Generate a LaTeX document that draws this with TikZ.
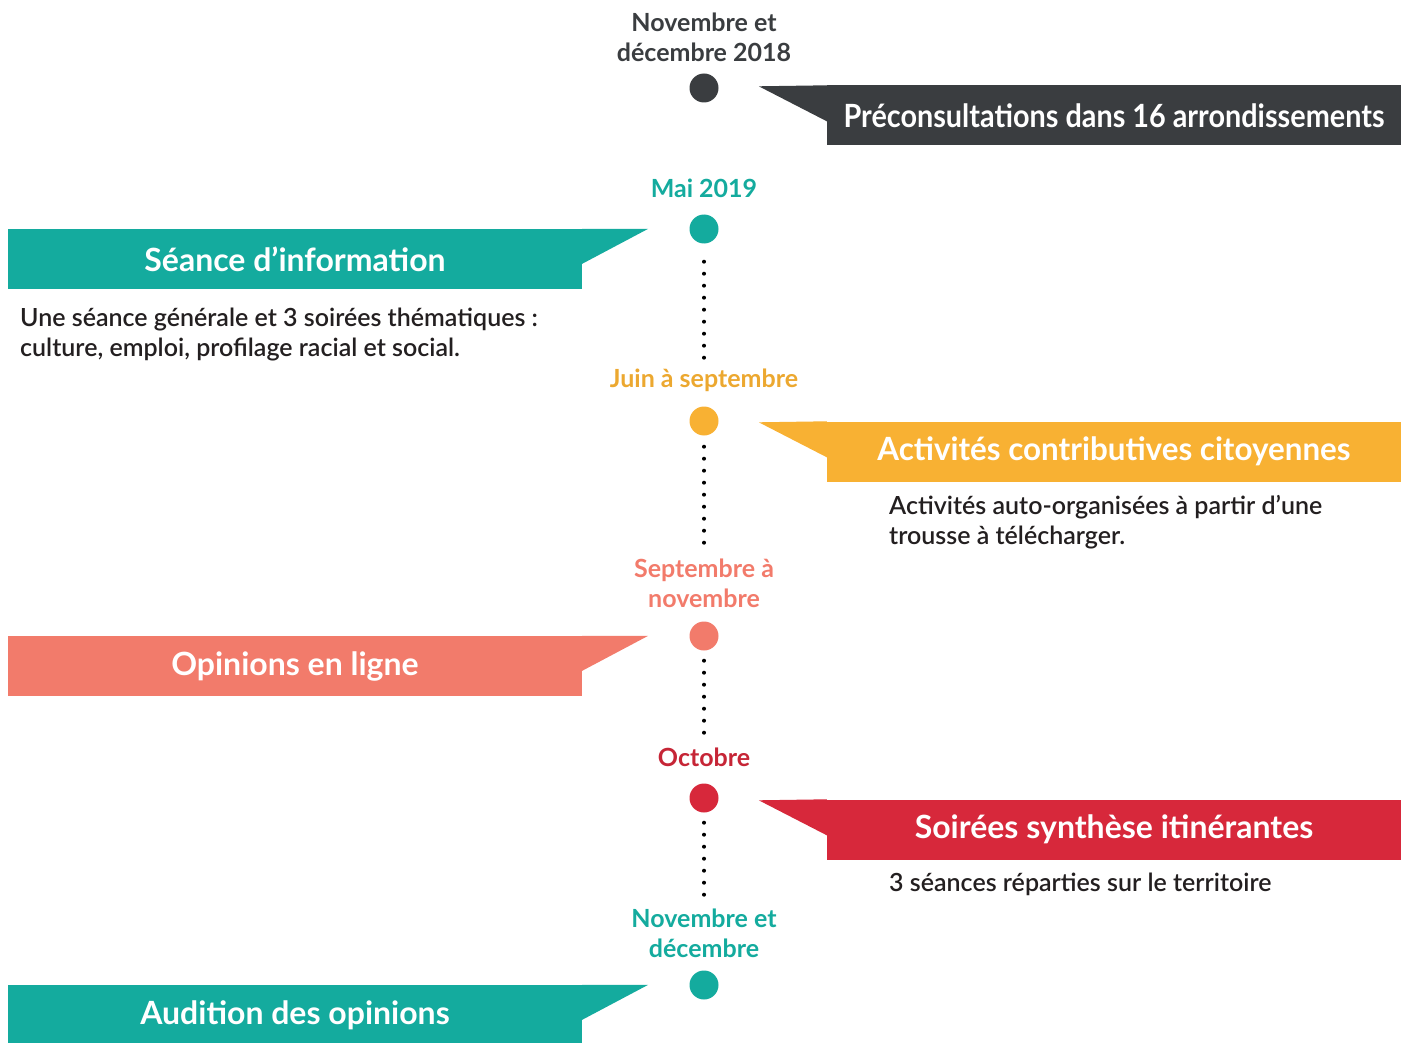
\documentclass[tikz,border=0pt]{standalone}
\usepackage{fontspec}
\setmainfont{Lato}
\IfFontExistsTF{Lato Semibold}
  {\newfontfamily\bodyfont{Lato Semibold}}
  {\newfontfamily\bodyfont[FakeBold=0.5]{Lato}}
\usetikzlibrary{positioning}

\definecolor{tlDark}{HTML}{3A3D40}
\definecolor{tlTeal}{HTML}{14AB9E}
\definecolor{tlOrange}{HTML}{F8B133}
\definecolor{tlSalmon}{HTML}{F27B6B}
\definecolor{tlRed}{HTML}{D7283B}
\definecolor{tlText}{HTML}{231F20}

\begin{document}
\begin{tikzpicture}[x=1pt,y=-1pt]
        \tikzstyle{dot}=[circle,minimum size=29pt,inner sep=0pt]
        \tikzstyle{date}=[font=\fontsize{25}{30}\selectfont\bfseries,align=center,inner sep=2pt]
        \tikzstyle{banner}=[minimum width=574pt,minimum height=60pt,inner sep=0pt,text=white,
                font=\fontsize{32}{36}\selectfont\bfseries]
        \tikzstyle{body}=[font=\fontsize{25}{30}\selectfont\bodyfont,align=left,anchor=west,text=tlText,inner sep=0pt]
        \tikzstyle{dotline}=[line width=4pt,line cap=round,dash pattern=on 0pt off 12pt,shorten >=6pt]

        \useasboundingbox (0,0) rectangle (1408,1043);

        % Draw the timeline dots
        \foreach \name / \y / \c in {1/88/tlDark,2/229/tlTeal,3/421/tlOrange,4/636/tlSalmon,5/798/tlRed,6/985/tlTeal}
            \node[dot,fill=\c] (d-\name) at (704,\y) {};

        % Dates above the dots
        \node[date,text=tlDark] (l-1) at (704,37) {Novembre et\\décembre 2018};
        \node[date,text=tlTeal] (l-2) at (704,188) {Mai 2019};
        \node[date,text=tlOrange!95!black] (l-3) at (704,380) {Juin à septembre};
        \node[date,text=tlSalmon] (l-4) at (704,583) {Septembre à\\novembre};
        \node[date,text=tlRed!92!black] (l-5) at (704,757) {Octobre};
        \node[date,text=tlTeal] (l-6) at (704,933) {Novembre et\\décembre};

        % Dotted links between the steps
        \foreach \a / \b / \s in {2/3/18pt,3/4/11pt,4/5/10pt,5/6/10pt}
            \draw[dotline,shorten <=\s] (d-\a) -- (l-\b);

        % Banners on the right
        \foreach \name / \y / \c / \w / \txt in {1/115.5/tlDark/0.9/Préconsultations dans 16 arrondissements,
                3/451.5/tlOrange/0.98/Activités contributives citoyennes,
                5/829.5/tlRed/1/Soirées synthèse itinérantes}
        {
            \node[banner,fill=\c] (b-\name) at (1114,\y) {\scalebox{\w}[1]{\txt}};
            \fill[\c] (b-\name.north west) -- ++(-68,1) -- ([yshift=-36pt]b-\name.north west) -- cycle;
        }

        % Banners on the left
        \foreach \name / \y / \c / \txt in {2/259/tlTeal/Séance d’information,
                4/666/tlSalmon/Opinions en ligne,
                6/1015/tlTeal/Audition des opinions}
        {
            \node[banner,fill=\c] (b-\name) at (295,\y) {\txt};
            \fill[\c] (b-\name.north east) -- ++(66,0) -- ([yshift=-35pt]b-\name.north east) -- cycle;
        }

        % Descriptions
        \node[body] (t-2) at (20,335) {Une séance générale et 3 soirées thématiques :\\culture, emploi, profilage racial et social.};
        \node[body] (t-3) at (889,522) {Activités auto-organisées à partir d’une\\trousse à télécharger.};
        \node[body] (t-5) at (889,884) {3 séances réparties sur le territoire};
\end{tikzpicture}
\end{document}
